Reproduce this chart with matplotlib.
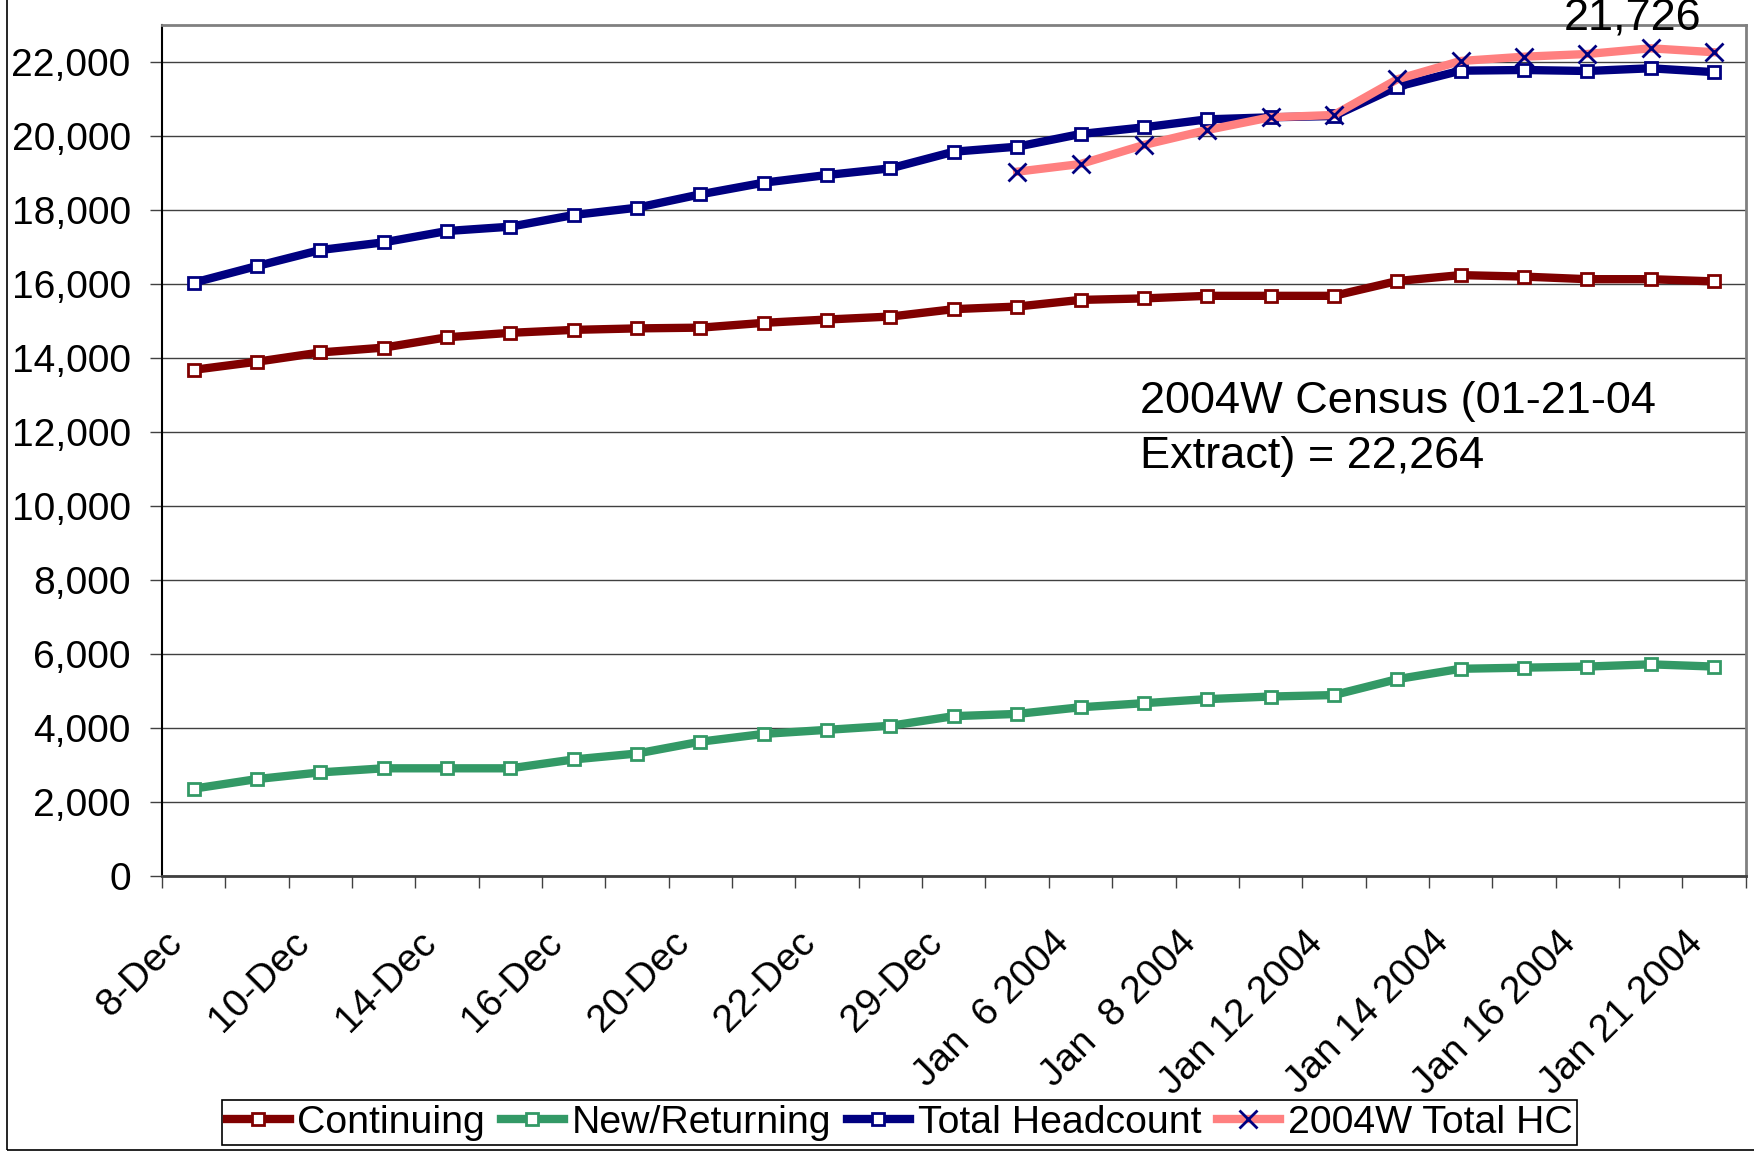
import matplotlib
matplotlib.use("Agg")
import matplotlib.pyplot as plt
from matplotlib.lines import Line2D
from matplotlib.patches import Rectangle
from matplotlib.transforms import ScaledTranslation
import numpy as np

plt.rcParams["font.family"] = ["Liberation Sans", "DejaVu Sans"]

# categories (every second one is labelled on the axis)
dates = ["8-Dec", "9-Dec", "10-Dec", "11-Dec", "14-Dec", "15-Dec", "16-Dec",
         "17-Dec", "20-Dec", "21-Dec", "22-Dec", "23-Dec", "29-Dec", "5-Jan",
         "Jan  6 2004", "Jan  7 2004", "Jan  8 2004", "Jan  9 2004",
         "Jan 12 2004", "Jan 13 2004", "Jan 14 2004", "Jan 15 2004",
         "Jan 16 2004", "Jan 20 2004", "Jan 21 2004"]
tick_labels = ["8-Dec", "10-Dec", "14-Dec", "16-Dec", "20-Dec", "22-Dec", "29-Dec",
               "Jan  6 2004", "Jan  8 2004", "Jan 12 2004", "Jan 14 2004",
               "Jan 16 2004", "Jan 21 2004"]

continuing = [13680, 13900, 14150, 14280, 14560, 14680, 14760, 14800, 14820,
              14950, 15040, 15120, 15320, 15390, 15570, 15610, 15680, 15680,
              15680, 16080, 16240, 16200, 16130, 16130, 16070]
new_returning = [2360, 2620, 2800, 2910, 2910, 2910, 3150, 3310, 3630, 3840,
                 3950, 4060, 4320, 4380, 4560, 4670, 4780, 4850, 4890, 5320,
                 5600, 5630, 5660, 5720, 5660]
total_hc = [16036, 16486, 16919, 17126, 17432, 17549, 17865, 18062, 18424,
            18738, 18946, 19126, 19576, 19711, 20054, 20234, 20450, 20505,
            20540, 21333, 21765, 21784, 21757, 21830, 21726]
# 2004W series only exists from the 14th category on
hc_2004w = [np.nan] * 13 + [19035, 19243, 19757, 20162, 20505, 20568, 21532,
                            22027, 22143, 22216, 22370, 22264]

x = np.arange(len(dates))

fig = plt.figure(figsize=(17.54, 11.52), dpi=100)
ax = fig.add_axes([0.0924, 0.2396, 0.9028, 0.7387])

LW = 6
sq = dict(marker="s", markersize=8.5, markerfacecolor="white", markeredgewidth=2)
ax.plot(x, continuing, color="#800000", lw=LW, markeredgecolor="#800000", **sq)
ax.plot(x, new_returning, color="#339966", lw=LW, markeredgecolor="#339966", **sq)
ax.plot(x, total_hc, color="#000080", lw=LW, markeredgecolor="#000080", **sq)
ax.plot(x, hc_2004w, color="#FF8080", lw=LW, marker="x", markersize=13,
        markeredgecolor="#000080", markeredgewidth=2)

ax.set_xlim(-0.5, len(dates) - 0.5)
ax.set_ylim(0, 23000)
ax.set_yticks(np.arange(0, 22001, 2000))
ax.set_yticklabels([f"{v:,}" for v in range(0, 22001, 2000)])
ax.yaxis.grid(True, color="#404040", lw=1)

ax.set_xticks(np.arange(-0.5, len(dates), 1))
ax.set_xticklabels([])
ax.set_xticks(x[::2], minor=True)
ax.set_xticklabels(tick_labels, minor=True, rotation=45, ha="right",
                   va="center", rotation_mode="anchor")

ax.tick_params(axis="both", which="major", direction="out", length=8.6,
               width=1, color="#404040", labelsize=28)
ax.tick_params(axis="y", pad=14)
ax.tick_params(axis="x", which="minor", length=0, pad=44, labelsize=28)
shift = ScaledTranslation(-0.17, 0, fig.dpi_scale_trans)
for lab in ax.get_xticklabels(minor=True):
    lab.set_transform(lab.get_transform() + shift)

ax.spines["left"].set_color("black")
ax.spines["left"].set_linewidth(1.5)
ax.spines["bottom"].set_color("#404040")
ax.spines["bottom"].set_linewidth(2)
for s in ("top", "right"):
    ax.spines[s].set_color("#808080")
    ax.spines[s].set_linewidth(2)

fig.text(0.65, 0.6415, "2004W Census (01-21-04", fontsize=32.5, va="baseline")
fig.text(0.65, 0.5938, "Extract) = 22,264", fontsize=32.5, va="baseline")
fig.text(0.931, 0.974, "21,726", fontsize=32.5, ha="center", va="baseline")

handles = [
    Line2D([], [], color="#800000", lw=LW, markeredgecolor="#800000", **sq),
    Line2D([], [], color="#339966", lw=LW, markeredgecolor="#339966", **sq),
    Line2D([], [], color="#000080", lw=LW, markeredgecolor="#000080", **sq),
    Line2D([], [], color="#FF8080", lw=LW, marker="x", markersize=13,
           markeredgecolor="#000080", markeredgewidth=2),
]
leg = fig.legend(handles, ["Continuing", "New/Returning", "Total Headcount",
                           "2004W Total HC"],
                 loc="center", bbox_to_anchor=(0.5128, 0.0256), ncol=4,
                 fontsize=28.3, frameon=True, fancybox=False, framealpha=1,
                 edgecolor="black", borderpad=0.12, handlelength=1.6,
                 handletextpad=0.2, columnspacing=0.4, borderaxespad=0,
                 numpoints=1)
leg.get_frame().set_linewidth(1.2)

fig.patches.append(Rectangle((0.004, 0.0017), 1.2, 1.2, transform=fig.transFigure,
                             fill=False, edgecolor="black", lw=1.2))

fig.savefig("out.png", dpi=100)
